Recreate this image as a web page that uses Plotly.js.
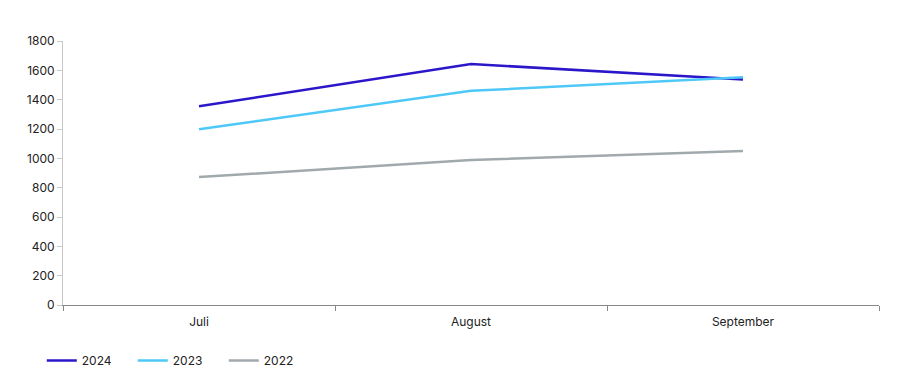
<!DOCTYPE html>
<html>
<head>
<meta charset="utf-8">
<script src="https://cdn.plot.ly/plotly-3.0.1.min.js"></script>
<style>html,body{margin:0;padding:0;background:#fff}#chart{width:900px;height:380px}</style>
</head>
<body>
<div id="chart"></div>
<script>
const categories = ["Juli", "August", "September"];
const seriesNames = ["2024", "2023", "2022"];
const values2024 = [1355, 1643, 1538];
const values2023 = [1198, 1460, 1552];
const values2022 = [872, 988, 1050];
const yTicks = [0, 200, 400, 600, 800, 1000, 1200, 1400, 1600, 1800];

const colors = ["#2b17c9", "#4ec9f7", "#a1a9ac"];
const allValues = [values2024, values2023, values2022];

const traces = allValues.map((v, i) => ({
  type: "scatter",
  mode: "lines",
  x: categories,
  y: v,
  name: seriesNames[i],
  line: {color: colors[i], width: 2.5},
  hoverinfo: "skip"
}));

const layout = {
  width: 900,
  height: 380,
  margin: {l: 63, r: 21, t: 41, b: 75, autoexpand: false},
  paper_bgcolor: "#fff",
  plot_bgcolor: "#fff",
  font: {family: "Inter, 'Liberation Sans', sans-serif", size: 12, color: "#222"},
  showlegend: true,
  legend: {
    orientation: "h",
    x: -0.026, xanchor: "left",
    y: -0.21, yanchor: "middle",
    font: {size: 12, color: "#222"},
    traceorder: "normal",
    entrywidth: 46,
    entrywidthmode: "pixels"
  },
  xaxis: {
    type: "category",
    range: [-0.5, 2.5],
    showgrid: false,
    zeroline: false,
    showline: true,
    linecolor: "#888",
    linewidth: 1,
    ticks: "outside",
    tickson: "boundaries",
    ticklen: 5,
    tickcolor: "#888",
    ticklabelstandoff: 6,
    tickfont: {size: 12, color: "#222"},
    fixedrange: true
  },
  yaxis: {
    range: [0, 1800],
    tickvals: yTicks,
    ticktext: yTicks.map(String),
    showgrid: false,
    zeroline: false,
    showline: true,
    linecolor: "#c8c8c8",
    linewidth: 1,
    ticks: "outside",
    ticklen: 5,
    tickcolor: "#c8c8c8",
    tickfont: {size: 12, color: "#222"},
    fixedrange: true
  }
};

Plotly.newPlot("chart", traces, layout, {displayModeBar: false, staticPlot: true});
</script>
</body>
</html>
